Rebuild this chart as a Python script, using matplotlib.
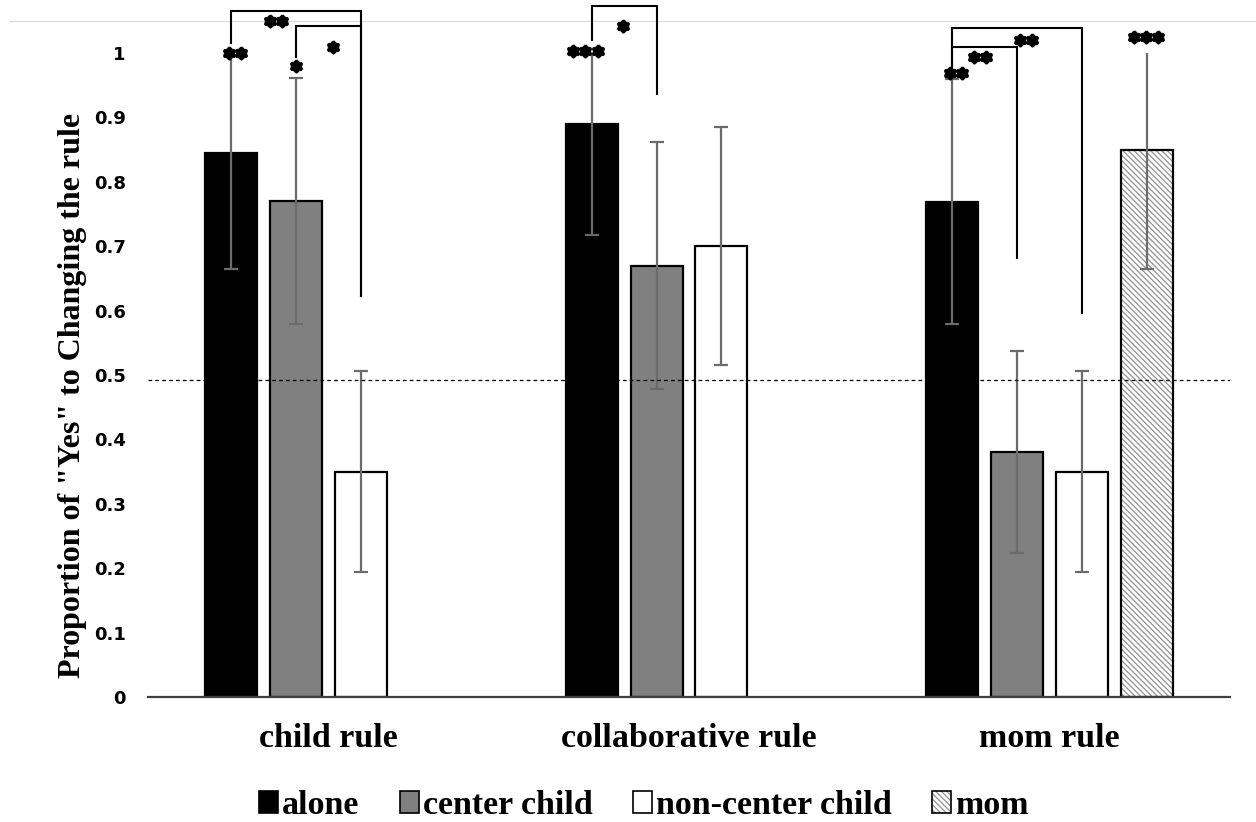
import numpy as np
import matplotlib
matplotlib.use('Agg')
import matplotlib.pyplot as plt
from matplotlib.patches import Patch
from matplotlib.lines import Line2D
from matplotlib.path import Path

# data
categories = ['child rule', 'collaborative rule', 'mom rule']
seriesNames = ['alone', 'center child', 'non-center child', 'mom']
aloneVals = [0.845, 0.890, 0.769]
centerVals = [0.770, 0.670, 0.380]
nonCenterVals = [0.350, 0.700, 0.350]
momVals = [np.nan, np.nan, 0.850]
aloneErr = [0.180, 0.172, 0.190]
centerErr = [0.191, 0.192, 0.157]
nonCenterErr = [0.156, 0.185, 0.156]
momErr = [np.nan, np.nan, 0.185]
chanceLevel = 0.492

# significance brackets: (group, left series, right series, top, left bottom, right bottom)
brackets = [
    (0, 0, 2, 1.065, 1.016, 0.623),
    (0, 1, 2, 1.042, 0.994, 0.623),
    (1, 0, 1, 1.073, 1.020, 0.936),
    (2, 0, 2, 1.039, 0.977, 0.596),
    (2, 0, 1, 1.009, 0.977, 0.682),
]
# star labels: (x centre, y, number of stars)
starLabels = [
    (-0.146, 1.050, 2), (0.012, 1.009, 1), (-0.259, 1.000, 2), (-0.090, 0.980, 1),
    (0.818, 1.042, 1), (0.713, 1.003, 3),
    (1.935, 1.020, 2), (1.807, 0.994, 2), (1.740, 0.969, 2), (2.268, 1.025, 3),
]

slot = 0.180
barW = 0.144
starStep = 0.0335

# filled six-lobed star shape
th = np.linspace(0, 2 * np.pi, 72, endpoint=False)
rr = 1 + 0.12 * np.cos(6 * th)
starPath = Path(np.column_stack([rr * np.sin(th), rr * np.cos(th)]))


def xPos(g, s):
    return g + (s - 1.5) * slot


fig = plt.figure(figsize=(12.56, 8.22), dpi=100)
# thin grey rule at the top of the picture (behind everything)
fig.add_artist(Line2D([10 / 1256, 1], [1 - 21 / 822, 1 - 21 / 822], color='#dddddd',
                      linewidth=1, zorder=-5))
ax = fig.add_axes([148 / 1256, 1 - 697 / 822, (1230 - 148) / 1256, (697 - 53) / 822])
ax.patch.set_alpha(0)

grp = np.arange(len(categories))
allVals = [aloneVals, centerVals, nonCenterVals, momVals]
allErr = [aloneErr, centerErr, nonCenterErr, momErr]
faceClrs = ['black', '#808080', 'white', 'white']

handles = []
for s in range(4):
    xs = grp + (s - 1.5) * slot
    vals = np.array(allVals[s], dtype=float)
    if s == 3:
        ax.bar(xs, vals, barW, color='white', edgecolor='#9a9a9a', hatch='\\\\\\\\\\\\', linewidth=0, zorder=2)
        ax.bar(xs, vals, barW, fill=False, edgecolor='black', linewidth=1.6, zorder=3)
        h = (Patch(facecolor='white', edgecolor='#9a9a9a', hatch='\\\\\\\\\\\\', linewidth=0),
             Patch(fill=False, edgecolor='black', linewidth=1.2))
    else:
        ax.bar(xs, vals, barW, color=faceClrs[s], edgecolor='black', linewidth=1.6, zorder=3)
        h = Patch(facecolor=faceClrs[s], edgecolor='black', linewidth=1.2)
    handles.append(h)
    ax.errorbar(xs, vals, yerr=np.array(allErr[s], dtype=float), fmt='none', ecolor='#6b6b6b',
                elinewidth=1.6, capsize=5, capthick=1.6, zorder=4)

ax.axhline(chanceLevel, color='black', linestyle=(0, (3, 2.5)), linewidth=0.9, zorder=5)

# brackets
for g, s1, s2, top, b1, b2 in brackets:
    x1, x2 = xPos(g, s1), xPos(g, s2)
    ax.plot([x1, x1, x2, x2], [b1, top, top, b2], color='black', linewidth=1.5,
            clip_on=False, zorder=6, solid_joinstyle='miter')

for x, y, n in starLabels:
    sx = x + (np.arange(n) - (n - 1) / 2) * starStep
    ax.plot(sx, [y] * n, linestyle='none', marker=starPath, markersize=9.5,
            markerfacecolor='black', markeredgecolor='black', markeredgewidth=0.6,
            clip_on=False, zorder=7)

ax.set_xlim(-0.5, 2.5)
ax.set_ylim(0, 1.0)
ax.set_yticks(np.arange(0, 1.01, 0.1))
ax.set_yticklabels(['0', '0.1', '0.2', '0.3', '0.4', '0.5', '0.6', '0.7', '0.8', '0.9', '1'],
                   fontsize=13, fontweight='bold', family='DejaVu Sans')
ax.set_xticks(grp)
ax.set_xticklabels(categories, fontsize=24.5, fontweight='bold', family='Liberation Serif')
ax.tick_params(axis='y', length=0, pad=16)
ax.tick_params(axis='x', length=0, pad=19)
for sp in ['top', 'right', 'left']:
    ax.spines[sp].set_visible(False)
ax.spines['bottom'].set_color('#404040')
ax.spines['bottom'].set_linewidth(1.6)
ax.spines['bottom'].set_zorder(8)

ax.set_ylabel('Proportion of "Yes" to Changing the rule', fontsize=23, fontweight='bold',
              family='Liberation Serif')
ax.yaxis.set_label_coords(-0.0564, 0.469)

fig.legend(handles, seriesNames, loc='center', bbox_to_anchor=(0.5127, 0.020), ncol=4,
           frameon=False, handlelength=0.56, handleheight=0.6, handletextpad=0.12,
           columnspacing=1.18, prop={'family': 'Liberation Serif', 'weight': 'bold', 'size': 24.5})

fig.savefig('out.png', dpi=100)
plt.close()
